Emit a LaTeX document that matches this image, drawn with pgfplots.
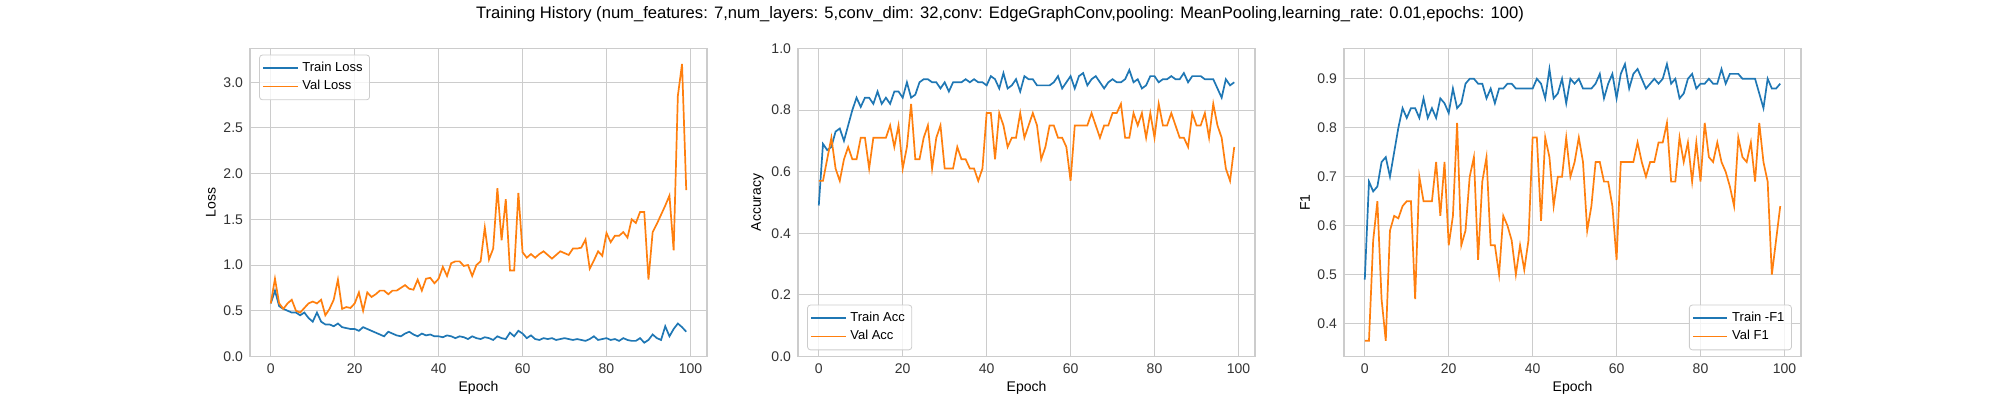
\documentclass[border=0pt]{standalone}
\usepackage{pgfplots}
\usepackage{pgfplotstable}
\usepackage{fontspec}
\setmainfont{Liberation Sans}
\pgfplotsset{compat=1.18}
\definecolor{cz}{HTML}{1F77B4}
\definecolor{co}{HTML}{FF7F0E}
\definecolor{gr}{HTML}{CCCCCC}
\pgfplotstableread{
e tl vl ta va tf vf
0 0.58 0.58 0.49 0.57 0.49 0.365
1 0.72 0.85 0.69 0.57 0.69 0.365
2 0.55 0.58 0.67 0.64 0.67 0.57
3 0.52 0.52 0.68 0.71 0.68 0.65
4 0.50 0.58 0.73 0.61 0.73 0.45
5 0.48 0.62 0.74 0.57 0.74 0.365
6 0.48 0.50 0.70 0.64 0.70 0.59
7 0.45 0.48 0.75 0.68 0.75 0.62
8 0.48 0.53 0.80 0.64 0.80 0.615
9 0.42 0.58 0.84 0.64 0.84 0.64
10 0.38 0.60 0.81 0.71 0.82 0.65
11 0.48 0.58 0.84 0.71 0.84 0.65
12 0.38 0.62 0.84 0.61 0.84 0.45
13 0.35 0.45 0.82 0.71 0.82 0.70
14 0.35 0.52 0.86 0.71 0.86 0.65
15 0.33 0.62 0.82 0.71 0.82 0.65
16 0.36 0.84 0.84 0.71 0.84 0.65
17 0.32 0.52 0.82 0.75 0.82 0.73
18 0.31 0.54 0.86 0.68 0.86 0.62
19 0.30 0.53 0.86 0.75 0.85 0.73
20 0.30 0.58 0.84 0.61 0.83 0.56
21 0.28 0.70 0.89 0.68 0.88 0.62
22 0.32 0.50 0.84 0.82 0.84 0.81
23 0.30 0.70 0.85 0.64 0.85 0.56
24 0.28 0.65 0.89 0.64 0.89 0.59
25 0.26 0.68 0.90 0.71 0.90 0.70
26 0.24 0.72 0.90 0.75 0.90 0.74
27 0.22 0.72 0.89 0.61 0.89 0.53
28 0.27 0.68 0.89 0.71 0.89 0.69
29 0.25 0.72 0.87 0.75 0.86 0.74
30 0.23 0.72 0.89 0.61 0.88 0.56
31 0.22 0.75 0.86 0.61 0.85 0.56
32 0.25 0.78 0.89 0.61 0.88 0.50
33 0.27 0.74 0.89 0.68 0.88 0.62
34 0.24 0.73 0.89 0.64 0.89 0.60
35 0.22 0.84 0.90 0.64 0.89 0.57
36 0.25 0.72 0.89 0.61 0.88 0.50
37 0.23 0.85 0.90 0.61 0.88 0.56
38 0.24 0.86 0.89 0.57 0.88 0.51
39 0.22 0.80 0.89 0.61 0.88 0.57
40 0.22 0.85 0.88 0.79 0.88 0.78
41 0.21 0.98 0.91 0.79 0.90 0.78
42 0.23 0.88 0.90 0.64 0.89 0.61
43 0.22 1.02 0.87 0.79 0.86 0.78
44 0.20 1.04 0.92 0.75 0.92 0.74
45 0.22 1.04 0.87 0.68 0.86 0.64
46 0.21 0.99 0.88 0.71 0.87 0.70
47 0.19 1.00 0.90 0.71 0.90 0.70
48 0.22 0.88 0.86 0.79 0.85 0.78
49 0.20 1.00 0.91 0.71 0.90 0.70
50 0.19 1.04 0.90 0.75 0.89 0.73
51 0.21 1.41 0.90 0.79 0.90 0.78
52 0.20 1.06 0.88 0.75 0.88 0.73
53 0.18 1.18 0.88 0.64 0.88 0.59
54 0.22 1.84 0.88 0.68 0.88 0.64
55 0.20 1.27 0.88 0.75 0.89 0.73
56 0.19 1.72 0.89 0.75 0.91 0.73
57 0.26 0.94 0.91 0.71 0.86 0.69
58 0.22 0.94 0.87 0.71 0.89 0.69
59 0.28 1.79 0.89 0.68 0.91 0.64
60 0.25 1.14 0.91 0.57 0.86 0.53
61 0.20 1.08 0.87 0.75 0.91 0.73
62 0.23 1.12 0.91 0.75 0.93 0.73
63 0.19 1.08 0.92 0.75 0.88 0.73
64 0.18 1.12 0.88 0.75 0.91 0.73
65 0.20 1.15 0.90 0.79 0.92 0.77
66 0.19 1.11 0.91 0.75 0.90 0.73
67 0.20 1.07 0.89 0.71 0.88 0.70
68 0.18 1.11 0.87 0.75 0.89 0.73
69 0.19 1.15 0.89 0.75 0.90 0.73
70 0.20 1.13 0.90 0.79 0.89 0.77
71 0.19 1.11 0.89 0.79 0.90 0.77
72 0.18 1.18 0.89 0.82 0.93 0.81
73 0.19 1.18 0.90 0.71 0.89 0.69
74 0.18 1.19 0.93 0.71 0.90 0.69
75 0.17 1.28 0.89 0.79 0.86 0.78
76 0.19 0.96 0.90 0.75 0.87 0.73
77 0.22 1.05 0.87 0.79 0.90 0.77
78 0.18 1.15 0.88 0.71 0.91 0.69
79 0.19 1.10 0.91 0.79 0.88 0.77
80 0.20 1.35 0.91 0.71 0.89 0.69
81 0.18 1.25 0.89 0.82 0.89 0.81
82 0.19 1.32 0.90 0.75 0.90 0.74
83 0.17 1.32 0.90 0.75 0.89 0.73
84 0.20 1.36 0.91 0.79 0.89 0.77
85 0.18 1.30 0.90 0.75 0.92 0.73
86 0.17 1.50 0.90 0.71 0.89 0.71
87 0.17 1.46 0.92 0.71 0.91 0.68
88 0.20 1.58 0.89 0.68 0.91 0.64
89 0.15 1.58 0.91 0.79 0.91 0.78
90 0.18 0.84 0.91 0.75 0.90 0.74
91 0.24 1.36 0.91 0.75 0.90 0.73
92 0.20 1.45 0.90 0.79 0.90 0.77
93 0.18 1.55 0.90 0.71 0.90 0.69
94 0.33 1.65 0.90 0.82 0.87 0.81
95 0.22 1.76 0.87 0.75 0.84 0.73
96 0.30 1.16 0.84 0.71 0.90 0.69
97 0.36 2.85 0.90 0.61 0.88 0.50
98 0.32 3.20 0.88 0.57 0.88 0.57
99 0.27 1.82 0.89 0.68 0.89 0.64
}\data
\pgfplotsset{
  every axis/.style={},
  hist/.style={
    width=228.5pt, height=154pt, scale only axis,
    anchor=south west,
    xmin=-4.95, xmax=103.95,
    xtick={0,20,40,60,80,100},
    grid=major, major grid style={gr, line width=0.5pt},
    axis line style={gr, line width=0.6pt},
    major tick length=0pt,
    tick label style={font=\fontsize{7}{8}\selectfont, text=black!80},
    label style={font=\fontsize{7}{8}\selectfont},
    xlabel={Epoch},
    xlabel style={yshift=3pt},
    ylabel style={yshift=-3pt},
    /pgf/number format/assume math mode=true,
    /pgf/number format/fixed, /pgf/number format/fixed zerofill,
    /pgf/number format/precision=1,
    xticklabel style={/pgf/number format/precision=0},
    legend style={font=\fontsize{6.5}{8}\selectfont, draw=gr, rounded corners=1.5pt, inner sep=1.5pt, row sep=-1pt, fill=white, fill opacity=0.8, text opacity=1},
    legend cell align=left,
    every axis plot/.append style={line width=0.85pt, mark=none},
  }
}
\begin{document}
\begin{tikzpicture}
\path (0,0) rectangle (1000pt,200pt);
\node[font=\fontsize{8.3}{10}\selectfont] at (500pt,193pt) {Training History (num\_features: 7,num\_layers: 5,conv\_dim: 32,conv: EdgeGraphConv,pooling: MeanPooling,learning\_rate: 0.01,epochs: 100)};
\begin{axis}[hist, at={(125pt,22pt)}, ymin=0, ymax=3.37, ytick={0,0.5,...,3.0}, ylabel={Loss}, legend pos=north west, legend style={at={(0.02,0.98)}}]
\addplot[cz] table[x=e,y=tl]{\data}; \addlegendentry{Train Loss}
\addplot[co] table[x=e,y=vl]{\data}; \addlegendentry{Val Loss}
\end{axis}
\begin{axis}[hist, at={(399pt,22pt)}, ymin=0, ymax=1, ytick={0,0.2,...,1.0}, ylabel={Accuracy}, legend pos=south west, legend style={at={(0.02,0.02)}}]
\addplot[cz] table[x=e,y=ta]{\data}; \addlegendentry{Train Acc}
\addplot[co] table[x=e,y=va]{\data}; \addlegendentry{Val Acc}
\end{axis}
\begin{axis}[hist, at={(672pt,22pt)}, ymin=0.333, ymax=0.962, ytick={0.4,0.5,...,0.9}, ylabel={F1}, legend pos=south east, legend style={at={(0.98,0.02)}}]
\addplot[cz] table[x=e,y=tf]{\data}; \addlegendentry{Train -F1}
\addplot[co] table[x=e,y=vf]{\data}; \addlegendentry{Val F1}
\end{axis}
\end{tikzpicture}
\end{document}
